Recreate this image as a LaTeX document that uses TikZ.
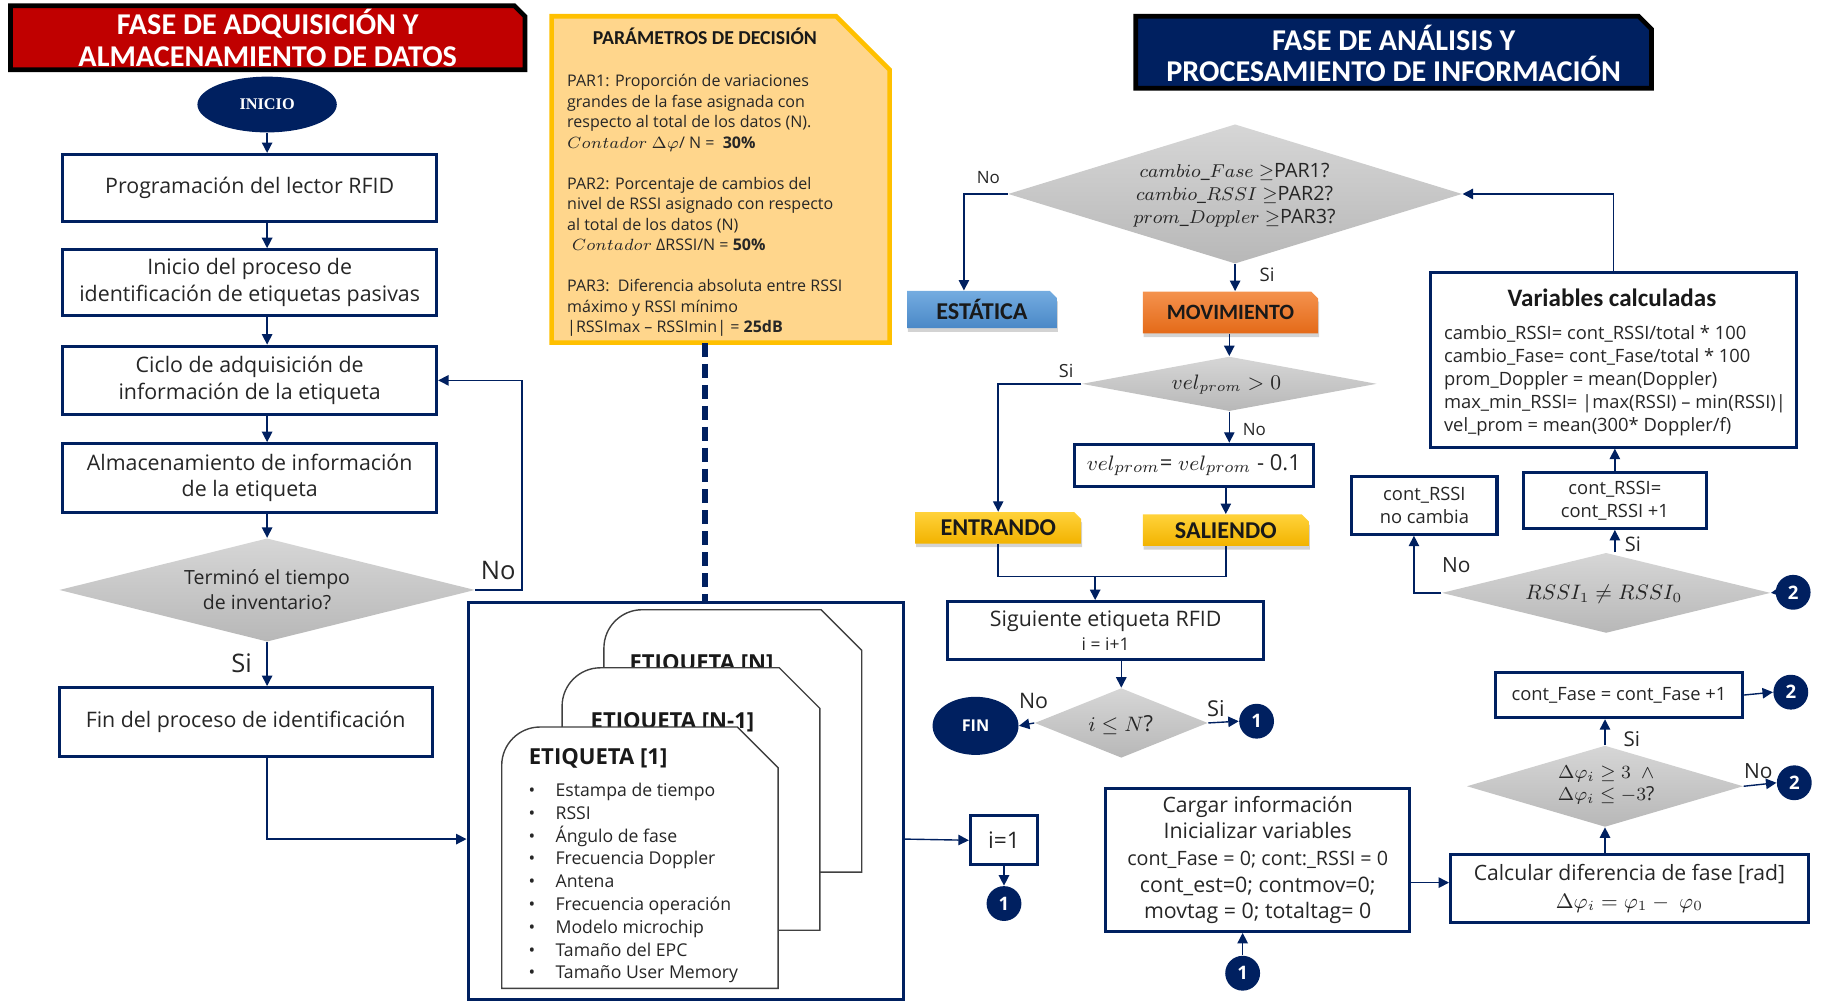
\documentclass[tikz,border=0pt]{standalone}
\usepackage{fontspec}
\setmainfont{Open Sans}
\newfontfamily\calfont{Carlito}
\newfontfamily\serifbold{Liberation Serif}
\usetikzlibrary{shapes.geometric,shapes.misc,arrows.meta,shadows}

\definecolor{navy}{HTML}{002060}
\definecolor{hdrred}{HTML}{C00000}
\definecolor{parfill}{HTML}{FFD68C}
\definecolor{parline}{HTML}{FFC000}
\definecolor{estA}{HTML}{74ACE0}
\definecolor{estB}{HTML}{4A88C7}
\definecolor{movA}{HTML}{F4924E}
\definecolor{movB}{HTML}{E46A18}
\definecolor{golA}{HTML}{FFD23A}
\definecolor{golB}{HTML}{F2B300}

\tikzset{
  procbox/.style={rectangle, draw=navy, line width=1.3pt, fill=white, inner sep=0pt,
    align=center, text=black!85, font=\fontsize{9.2}{11.5}\selectfont},
  decision/.style={diamond, top color=black!16, bottom color=black!28, draw=none, inner sep=0pt},
  dtext/.style={align=center, text=black!85, inner sep=0pt},
  flow/.style={draw=navy, line width=0.6pt, -{Triangle[length=4.5pt,width=4.5pt]}},
  flowline/.style={draw=navy, line width=0.6pt},
  dashconn/.style={draw=navy, line width=2.2pt, dash pattern=on 6pt off 3pt},
  terminal/.style={ellipse, fill=navy, text=white, inner sep=0pt},
  connector/.style={circle, fill=navy, text=white, minimum size=15pt, inner sep=0pt,
    font=\bfseries\fontsize{8}{8}\selectfont},
  answer/.style={inner sep=0pt, text=black!85},
  tag/.style={chamfered rectangle, chamfered rectangle corners=north east,
    chamfered rectangle sep=1.5pt, inner sep=0pt, text=black!90,
    font=\calfont\bfseries\fontsize{10.4}{12}\selectfont,
    drop shadow={shadow xshift=0.4pt, shadow yshift=-1.6pt, opacity=0.35}},
  card/.style={draw=black!75, line width=0.6pt, fill=white},
  cardtitle/.style={inner sep=0pt, text=black!90, font=\bfseries\fontsize{9.5}{10}\selectfont},
  item/.style={inner sep=0pt, text=black!85, font=\fontsize{7.6}{9}\selectfont},
  phaseframe/.style={draw=black, line width=2pt, line join=miter},
  phasetext/.style={inner sep=0pt, text=white, align=center,
    font=\calfont\bfseries\fontsize{13}{13.75}\selectfont},
}

\begin{document}
\begin{tikzpicture}[x=0.5pt,y=-0.5pt]
\useasboundingbox (0,0) rectangle (1568,863);

% ---------------- acquisition phase ----------------
\path[phaseframe, fill=hdrred] (9,5) -- (443,5) -- (452,14) -- (452,60) -- (9,60) -- cycle;
\node[phasetext, minimum width=221.5pt, minimum height=27.5pt] (hdrL) at (230.5,33)
      {FASE DE ADQUISICIÓN Y\\ALMACENAMIENTO DE DATOS};

\node[terminal, minimum width=60pt, minimum height=24pt,
      font=\serifbold\bfseries\fontsize{7}{7}\selectfont] (ini) at (230,90) {INICIO};

\node[procbox, minimum width=161pt, minimum height=29pt] (b1) at (215,162)
      {Programación del lector RFID};
\node[procbox, minimum width=161pt, minimum height=28.5pt] (b2) at (215,243.5)
      {Inicio del proceso de\\identificación de etiquetas pasivas};
\node[procbox, minimum width=161pt, minimum height=29.5pt] (b3) at (215,327.5)
      {Ciclo de adquisición de\\información de la etiqueta};
\node[procbox, minimum width=161pt, minimum height=29.5pt] (b4) at (215,411.5)
      {Almacenamiento de información\\de la etiqueta};
\node[decision, minimum width=179pt, minimum height=44.5pt] (dl) at (230,508) {};
\node[dtext, font=\fontsize{8.4}{10.8}\selectfont] (dlt) at (230,508)
      {Terminó el tiempo\\de inventario?};
\node[procbox, minimum width=160.5pt, minimum height=29.5pt] (b5) at (211.5,621.5)
      {Fin del proceso de identificación};

\node[answer, font=\fontsize{11}{11}\selectfont] (lno) at (429,491) {No};
\node[answer, font=\fontsize{11}{11}\selectfont] (lsi) at (208,571) {Si};

\draw[flow] (ini.south) -- (ini.south |- b1.north);
\draw[flow] (ini.south |- b1.south) -- (ini.south |- b2.north);
\draw[flow] (ini.south |- b2.south) -- (ini.south |- b3.north);
\draw[flow] (ini.south |- b3.south) -- (ini.south |- b4.north);
\draw[flow] (ini.south |- b4.south) -- (dl.north);
\draw[flow] (dl.south) -- (dl.south |- b5.north);
\draw[flow] (dl.east) -- ++(40,0) |- (b3.east);

% ---------------- decision parameters ----------------
\path[draw=parline, line width=2pt, fill=parfill, line join=miter]
      (475,14) -- (720,14) -- (766,60) -- (766,295) -- (475,295) -- cycle;
\node[inner sep=0pt, minimum width=145.5pt, minimum height=140.5pt] (par) at (620.5,154.5) {};
\node[inner sep=0pt, text=black!90, font=\calfont\bfseries\fontsize{8.5}{10}\selectfont]
      (partitle) at (607,31) {PARÁMETROS DE DECISIÓN};
\node[anchor=west, align=left, inner sep=0pt, text=black!85,
      font=\fontsize{6.9}{8.83}\selectfont] (partext) at (488,177)
      {PAR1: Proporción de variaciones\\
       grandes de la fase asignada con\\
       respecto al total de los datos (N).\\
       $Contador\ \Delta\varphi$/ N =\ \ \textbf{30\%}\\[8.83pt]
       PAR2: Porcentaje de cambios del\\
       nivel de RSSI asignado con respecto\\
       al total de los datos (N)\\
       \hspace{2pt}$Contador$ ΔRSSI/N = \textbf{50\%}\\[8.83pt]
       PAR3:\ \ Diferencia absoluta entre RSSI\\
       máximo y RSSI mínimo\\
       |RSSImax – RSSImin| = \textbf{25dB}};

% ---------------- tag records ----------------
\node[rectangle, draw=navy, line width=1.3pt, minimum width=187.5pt, minimum height=171pt,
      inner sep=0pt] (big) at (590.5,690) {};

\draw[card] (520,751) -- (520,558) .. controls (520,539.8) and (534.8,525) .. (553,525)
      -- (707,525) -- (742,560) -- (742,751) -- cycle;
\node[cardtitle, anchor=base] (tagN) at (604,577) {ETIQUETA [N]};
\draw[card] (484,801) -- (484,608) .. controls (484,589.8) and (498.8,575) .. (517,575)
      -- (671,575) -- (706,610) -- (706,801) -- cycle;
\node[cardtitle, anchor=base] (tagM) at (579,627) {ETIQUETA [N-1]};
\draw[card] (432,851) -- (432,659) .. controls (432,640.8) and (446.8,626) .. (465,626)
      -- (635,626) -- (670,661) -- (670,851) -- cycle;
\node[cardtitle, anchor=base west] (tag1) at (455,658.5) {ETIQUETA [1]};
\foreach \txt [count=\k from 0] in {Estampa de tiempo, RSSI, Ángulo de fase,
    Frecuencia Doppler, Antena, Frecuencia operación, Modelo microchip,
    Tamaño del EPC, Tamaño User Memory} {
  \node[item, anchor=base] (bul\k) at (458,686+19.6*\k) {•};
  \node[item, anchor=base west] (itm\k) at (478,686+19.6*\k) {\txt};
}

\draw[dashconn] ([xshift=-6.75pt]par.south) -- ([xshift=-6.75pt]par.south |- big.north);
\draw[flow] (dl.south |- b5.south) |- ([yshift=-16.25pt]big.west);

\node[procbox, minimum width=29pt, minimum height=21pt, font=\fontsize{9.8}{10}\selectfont]
      (i1) at (864.5,723.5) {i=1};
\node[connector] (c1a) at (864.5,778) {1};
\draw[flow] ([yshift=-16.25pt]big.east) -- (i1.west);
\draw[flow] (i1.south) -- (c1a.north);

% ---------------- analysis phase ----------------
\path[phaseframe, fill=navy] (978,14) -- (1411,14) -- (1422,25) -- (1422,76) -- (978,76) -- cycle;
\node[phasetext, minimum width=222pt, minimum height=31pt] (hdrR) at (1200,46)
      {FASE DE ANÁLISIS Y\\PROCESAMIENTO DE INFORMACIÓN};

\node[decision, minimum width=195.5pt, minimum height=60pt] (d1) at (1063.5,167) {};
\node[dtext, font=\fontsize{8.5}{9.8}\selectfont] (d1t) at (1063,168)
      {$cambio\_Fase$ $\geq$PAR1?\\$cambio\_RSSI$ $\geq$PAR2?\\$prom\_Doppler$ $\geq$PAR3?};

\node[tag, top color=estA, bottom color=estB, minimum width=64.5pt, minimum height=16pt]
      (est) at (845.5,266.5) {ESTÁTICA};
\node[tag, top color=movA, bottom color=movB, minimum width=75.5pt, minimum height=18pt,
      font=\calfont\bfseries\fontsize{9.4}{10}\selectfont] (mov) at (1059.5,269) {MOVIMIENTO};

\node[decision, minimum width=127pt, minimum height=23.5pt] (d2) at (1058.5,330.5) {};
\node[dtext, font=\fontsize{9}{10}\selectfont] (d2t) at (1056,331) {$vel_{prom} > 0$};

\node[procbox, minimum width=103pt, minimum height=18pt, font=\fontsize{9.5}{10}\selectfont]
      (vel) at (1028,400.5) {$vel_{prom}$= $vel_{prom}$ - 0.1};

\node[tag, top color=golA, bottom color=golB, minimum width=71.5pt, minimum height=13.5pt]
      (ent) at (859.5,454.5) {ENTRANDO};
\node[tag, top color=golA, bottom color=golB, minimum width=71.5pt, minimum height=13.5pt]
      (sal) at (1055.5,456.5) {SALIENDO};

\node[procbox, minimum width=136pt, minimum height=25pt] (sig) at (952,543)
      {Siguiente etiqueta RFID\\[-1.5pt]{\fontsize{7.5}{8}\selectfont i = i+1}};

\node[decision, minimum width=74.5pt, minimum height=30pt] (d3) at (965.5,622.5) {};
\node[dtext, font=\fontsize{9.5}{10}\selectfont] (d3t) at (965,624) {$i \leq N$?};
\node[terminal, minimum width=37pt, minimum height=25pt,
      font=\bfseries\fontsize{7}{7}\selectfont] (fin) at (840,625) {FIN};
\node[connector] (c1b) at (1082,621) {1};

\node[procbox, minimum width=131pt, minimum height=61.5pt] (load) at (1083,740.5)
      {\fontsize{9.1}{11.1}\selectfont Cargar información\\Inicializar variables\\
       \fontsize{8.5}{11.1}\selectfont cont\_Fase = 0; cont:\_RSSI = 0\\
       cont\_est=0; contmov=0;\\movtag = 0; totaltag= 0};
\node[connector] (c1c) at (1070,838) {1};

\node[procbox, minimum width=154pt, minimum height=29.5pt, font=\fontsize{9.1}{12}\selectfont]
      (calc) at (1403,765) {Calcular diferencia de fase [rad]\\$\Delta\varphi_i = \varphi_1 -\ \varphi_0$};

\node[decision, minimum width=119pt, minimum height=35pt] (d4) at (1382,677) {};
\node[dtext, font=\fontsize{8.3}{9.6}\selectfont] (d4t) at (1383,676)
      {$\Delta\varphi_i \geq 3\ \ \wedge$\\$\Delta\varphi_i \leq -3$?};
\node[connector] (c2a) at (1545,674) {2};

\node[procbox, minimum width=106pt, minimum height=19.5pt, font=\fontsize{7.9}{9}\selectfont]
      (cf) at (1394,598.5) {cont\_Fase = cont\_Fase +1};
\node[connector] (c2b) at (1542,596) {2};

\node[decision, minimum width=141.5pt, minimum height=34.5pt] (d5) at (1383,510.5) {};
\node[dtext, font=\fontsize{8.6}{10}\selectfont] (d5t) at (1381,512) {$RSSI_1 \neq RSSI_0$};
\node[connector] (c2c) at (1544,510) {2};

\node[procbox, minimum width=62.5pt, minimum height=25pt, font=\fontsize{7.9}{10}\selectfont]
      (nc) at (1226.5,435) {cont\_RSSI\\no cambia};
\node[procbox, minimum width=78.5pt, minimum height=24pt, font=\fontsize{7.9}{10}\selectfont]
      (cr) at (1390.5,431) {cont\_RSSI=\\cont\_RSSI +1};

\node[procbox, minimum width=157.5pt, minimum height=75pt] (vars) at (1389.5,310) {};
\node[inner sep=0pt, text=black!90, font=\calfont\bfseries\fontsize{10.8}{11}\selectfont]
      (varsT) at (1388,256) {Variables calculadas};
\node[anchor=west, align=left, inner sep=0pt, text=black!85,
      font=\fontsize{7.9}{9.9}\selectfont] (varsL) at (1243,327.5)
      {cambio\_RSSI= cont\_RSSI/total * 100\\
       cambio\_Fase= cont\_Fase/total * 100\\
       prom\_Doppler = mean(Doppler)\\
       max\_min\_RSSI= |max(RSSI) – min(RSSI)|\\
       vel\_prom = mean(300* Doppler/f)};

% answer labels
\node[answer, font=\fontsize{7.3}{8}\selectfont] (a1) at (851,153) {No};
\node[answer, font=\fontsize{8}{8}\selectfont] (a2) at (1091,237) {Si};
\node[answer, font=\fontsize{7.8}{8}\selectfont] (a3) at (918,319) {Si};
\node[answer, font=\fontsize{7.3}{8}\selectfont] (a4) at (1080,370) {No};
\node[answer, font=\fontsize{9.2}{9}\selectfont] (a5) at (890,604) {No};
\node[answer, font=\fontsize{9.4}{9}\selectfont] (a6) at (1047,610) {Si};
\node[answer, font=\fontsize{9}{9}\selectfont] (a7) at (1254,487) {No};
\node[answer, font=\fontsize{8.6}{9}\selectfont] (a8) at (1406,469) {Si};
\node[answer, font=\fontsize{8.8}{9}\selectfont] (a9) at (1405,636) {Si};
\node[answer, font=\fontsize{9}{9}\selectfont] (a10) at (1514,664) {No};

% connectors of the analysis phase
\draw[flow] (d1.west) -| ([xshift=-7.75pt]est.north);
\draw[flow] (d1.south) -- (d1.south |- mov.north);
\draw[flow] (d2.north |- mov.south) -- (d2.north);
\draw[flow] (d2.west) -| (ent.north);
\draw[flow] (d2.south) -- (d2.south |- vel.north);
\draw[flow] (sal.north |- vel.south) -- (sal.north);
\coordinate (merge) at (943,496.5);
\draw[flowline] (ent.south) |- (merge) -| (sal.south);
\draw[flow] (merge) -- (merge |- sig.north);
\draw[flow] (d3.north |- sig.south) -- (d3.north);
\draw[flow] (d3.west) -- (fin.east);
\draw[flow] (d3.east) -- (c1b.west);
\draw[flow] (c1c.north) -- (c1c.north |- load.south);
\draw[flow] ([yshift=-9.75pt]load.east) -- ([yshift=-9.75pt]load.east -| calc.west);
\draw[flow] (d4.south |- calc.north) -- (d4.south);
\draw[flow] (d4.north) -- (d4.north |- cf.south);
\draw[flow] (cf.east) -- (c2b.west);
\draw[flow] (d4.east) -- (c2a.west);
\draw[flow] (c2c.west) -- (d5.east);
\draw[flow] (d5.west) -| ([xshift=-4.5pt]nc.south);
\draw[flow] (cr.south |- d5.north) -- (cr.south);
\draw[flow] (cr.north) -- (cr.north |- vars.south);
\draw[flow] (vars.north) |- (d1.east);
\end{tikzpicture}
\end{document}
